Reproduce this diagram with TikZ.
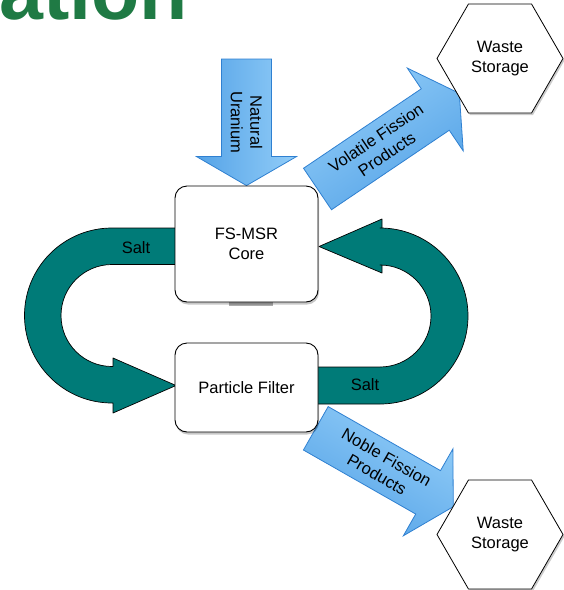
\documentclass[tikz,border=0pt]{standalone}
\usepackage{fontspec}
\setmainfont{Liberation Sans}
\usetikzlibrary{calc,shapes.geometric,shadows,backgrounds}
\definecolor{tealflow}{HTML}{007B78}
\definecolor{bluelight}{HTML}{92CDF8}
\definecolor{bluedark}{HTML}{55A3E7}
\definecolor{blueedge}{HTML}{2F80D1}
\definecolor{titlegreen}{HTML}{1F7A44}
\tikzset{
  box/.style={draw=black, line width=0.9pt, fill=white, rounded corners=12pt,
    minimum width=143pt, inner sep=0pt, align=center,
    font=\fontsize{16.5}{19.5}\selectfont,
    drop shadow={shadow xshift=1pt, shadow yshift=-2.5pt, fill=black, opacity=0.22}},
  hexa/.style={regular polygon, regular polygon sides=6, minimum size=126pt,
    draw=black, line width=0.8pt, fill=white, inner sep=0pt, align=center,
    font=\fontsize{16.5}{19.5}\selectfont,
    drop shadow={shadow xshift=1.5pt, shadow yshift=-2pt, fill=black, opacity=0.2}},
  flow/.style={fill=tealflow, draw=black, line width=0.7pt, line join=round},
  lbl/.style={font=\fontsize{16.5}{19.5}\selectfont, align=center, inner sep=0pt},
  blk/.style={draw=blueedge, line width=0.8pt, top color=bluelight, bottom color=bluedark},
}
% #1 tail, #2 tip, #3 angle, #4 label position (fraction), #5 label
\newcommand\blockarrow[5]{%
  \coordinate (hb) at ($(#2)!29pt!(#1)$);
  \shadedraw[blk, shading angle=#3]
    ($(#1)!25pt!90:(#2)$) -- ($(hb)!25pt!90:(#2)$) -- ($(hb)!50pt!90:(#2)$)
    -- (#2) -- ($(hb)!50pt!-90:(#2)$) -- ($(hb)!25pt!-90:(#2)$)
    -- ($(#1)!25pt!-90:(#2)$) -- cycle;
  \node[lbl, rotate=#3] at ($(#1)!#4!(#2)$) {#5};
}
\begin{document}
\begin{tikzpicture}[x=1pt, y=-1pt]
\useasboundingbox (0,0) rectangle (564,590);
\clip (0,0) rectangle (564,590);

% title fragment
\node[anchor=base west, inner sep=0pt, text=titlegreen,
      font=\fontsize{79}{79}\selectfont\bfseries] (title) at (-1,19) {ation};

% boxes
\fill[gray!65] (229,302) rectangle (273,306);
\node[box, minimum height=116pt] (core) at (246.5,244) {FS-MSR\\Core};
\node[box, minimum height=89pt] (pf) at (246.5,387.5) {Particle Filter};

% waste storage
\node[hexa] (ws1) at (500,58.5) {Waste\\Storage};
\node[hexa] (ws2) at (500,534.5) {Waste\\Storage};

\begin{pgfonlayer}{background}
% left salt flow (core -> particle filter)
\draw[flow] (180,228) -- (112,228)
  arc[start angle=-90, end angle=-270, radius=87.5]
  -- (113,403) -- (113,413) -- (176,385.5) -- (113,358) -- (113,366.5) -- (112,366.5)
  arc[start angle=90, end angle=270, radius=51]
  -- (180,264.5) -- cycle;
\node[lbl] (salt1) at (136,248) {Salt};

% right salt flow (particle filter -> core)
\draw[flow] (319,246.5) -- (382,219) -- (382,228) -- (380,228)
  arc[start angle=-90, end angle=90, radius=88]
  -- (314,404) -- (314,367) -- (380,367)
  arc[start angle=90, end angle=-90, radius=51]
  -- (382,265) -- (382,273) -- cycle;
\node[lbl] (salt2) at (365,385) {Salt};

% blue block arrows
\coordinate (nuTail) at (246.5,59);
\blockarrow{nuTail}{core.north}{-90}{0.5}{Natural\\Uranium}
\coordinate (vfTail) at (317.5,189);
\coordinate (vfTip) at (459.3,93.3);
\blockarrow{vfTail}{vfTip}{34.07}{0.45}{Volatile Fission\\Products}
\coordinate (nfTail) at (315.8,428.3);
\coordinate (nfTip) at (453.3,506.7);
\blockarrow{nfTail}{nfTip}{-29.7}{0.48}{Noble Fission\\Products}
\end{pgfonlayer}
\end{tikzpicture}
\end{document}
